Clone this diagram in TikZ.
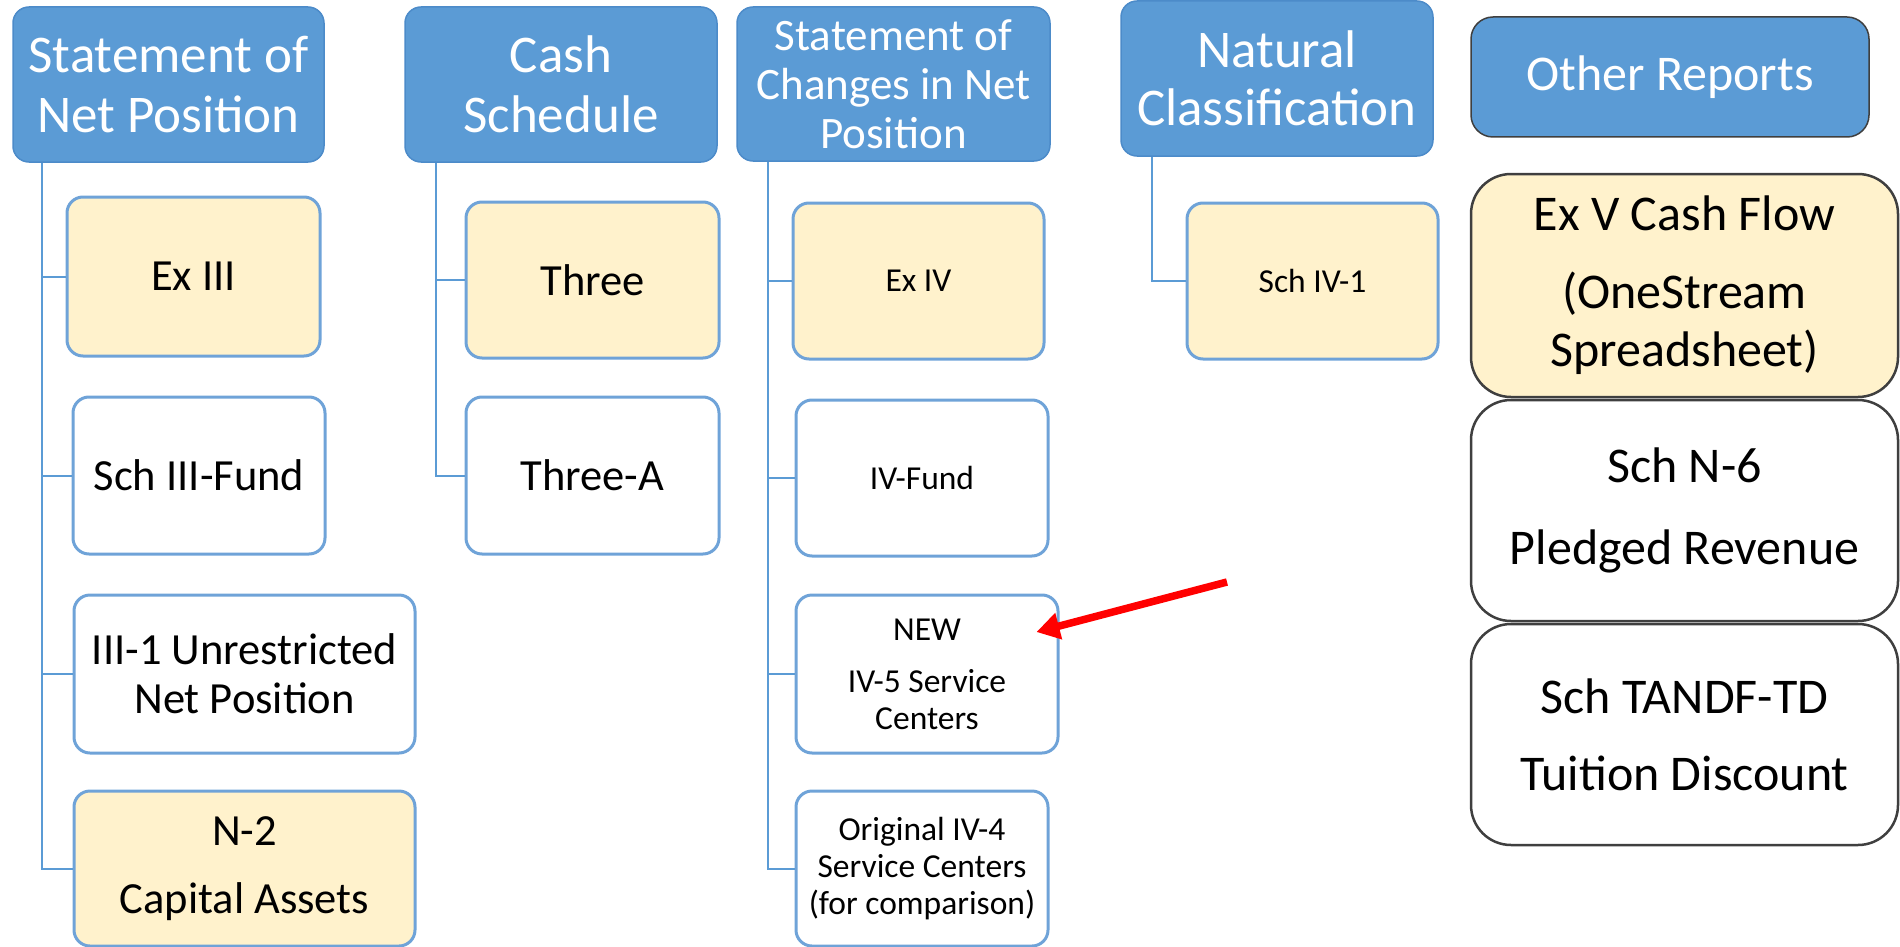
\documentclass[tikz,border=0pt]{standalone}
\usepackage{fontspec}
\setmainfont{Carlito}
\usepackage{tikz}
\usetikzlibrary{arrows.meta}

\definecolor{headblue}{HTML}{5B9BD5}
\definecolor{headline}{HTML}{4C8BC9}
\definecolor{itemline}{HTML}{6FA3D8}
\definecolor{cream}{HTML}{FFF2CC}
\definecolor{darkline}{HTML}{3F3F3F}
\definecolor{arrowred}{HTML}{FF0000}

\tikzset{
head/.style = { rectangle, draw = headline, fill = headblue, text = white, line width = 1.5pt, rounded corners = 16pt, align = center, inner sep = 0pt, font = \fontsize{53}{60}\selectfont },
item/.style = { rectangle, draw = itemline, fill = white, line width = 3pt, rounded corners = 16pt, align = center, inner sep = 0pt, font = \fontsize{44.5}{49}\selectfont },
small item/.style = { item, font = \fontsize{33.5}{37}\selectfont },
cream item/.style = { fill = cream },
other/.style = { rectangle, draw = darkline, fill = white, line width = 2.5pt, rounded corners = 40pt, align = center, inner sep = 0pt, font = \fontsize{50}{58}\selectfont },
branch/.style = { draw = headblue, line width = 2pt },
}

\begin{document}
\begin{tikzpicture}[x = 1pt, y = -1pt]
    \useasboundingbox (0, 0) rectangle (1900, 947);
    % headers
    \node[head, minimum width = 311pt, minimum height = 155pt] (hnet) at (168.5, 84.5) {Statement of\\Net Position};
    \node[head, minimum width = 312pt, minimum height = 155pt] (hcash) at (561, 84.5) {Cash\\Schedule};
    \node[head, minimum width = 313pt, minimum height = 154pt, font = \fontsize{45}{49}\selectfont] (hchg) at (893.5, 84) {Statement of\\Changes in Net\\Position};
    \node[head, minimum width = 312pt, minimum height = 155pt, font = \fontsize{53}{58}\selectfont] (hnat) at (1277, 78.5) {Natural\\Classification};
    \node[head, draw = darkline, minimum width = 398pt, minimum height = 120pt, rounded corners = 22pt, font = \fontsize{50}{58}\selectfont] (hother) at (1670, 77) {Other Reports};
    % statement of net position
    \node[item, cream item, minimum width = 253pt, minimum height = 159pt] (exiii) at (193.5, 276.5) {Ex III};
    \node[item, minimum width = 252pt, minimum height = 157pt] (schiii) at (199, 475.5) {Sch III-Fund};
    \node[item, minimum width = 341pt, minimum height = 158pt] (unres) at (244.5, 674) {III-1 Unrestricted\\Net Position};
    \node[item, cream item, minimum width = 341pt, minimum height = 155pt] (ntwo) at (244.5, 868.5) {N-2\\[19pt]Capital Assets};
    % cash schedule
    \node[item, cream item, minimum width = 253pt, minimum height = 156pt] (three) at (592.5, 280) {Three};
    \node[item, minimum width = 253pt, minimum height = 157pt] (threea) at (592.5, 475.5) {Three-A};
    % changes in net position
    \node[small item, cream item, minimum width = 251pt, minimum height = 156pt] (exiv) at (918.5, 281) {Ex IV};
    \node[small item, minimum width = 252pt, minimum height = 156pt] (ivfund) at (922, 478) {IV-Fund};
    \node[small item, minimum width = 262pt, minimum height = 158pt] (ivfive) at (927, 674) {NEW\\[15pt]IV-5 Service\\Centers};
    \node[small item, minimum width = 252pt, minimum height = 155pt] (ivfour) at (922, 868.5) {Original IV-4\\Service Centers\\(for comparison)};
    % natural classification
    \node[small item, cream item, minimum width = 251pt, minimum height = 156pt] (schivone) at (1312.5, 281) {Sch IV-1};
    % other reports
    \node[other, fill = cream, minimum width = 427pt, minimum height = 223pt] (exv) at (1684.5, 285.5) {Ex V Cash Flow\\[20pt](OneStream\\Spreadsheet)};
    \node[other, minimum width = 427pt, minimum height = 221pt] (nsix) at (1684.5, 510.5) {Sch N-6\\[24pt]Pledged Revenue};
    \node[other, minimum width = 427pt, minimum height = 221pt] (tandf) at (1684.5, 734.5) {Sch TANDF-TD\\[19pt]Tuition Discount};
    % connectors
    \draw[branch] ([xshift = 30pt]hnet.south west) |- (exiii.west);
    \draw[branch] ([xshift = 30pt]hnet.south west) |- (schiii.west);
    \draw[branch] ([xshift = 30pt]hnet.south west) |- (unres.west);
    \draw[branch] ([xshift = 30pt]hnet.south west) |- (ntwo.west);
    \draw[branch] ([xshift = 32pt]hcash.south west) |- (three.west);
    \draw[branch] ([xshift = 32pt]hcash.south west) |- (threea.west);
    \draw[branch] ([xshift = 32pt]hchg.south west) |- (exiv.west);
    \draw[branch] ([xshift = 32pt]hchg.south west) |- (ivfund.west);
    \draw[branch] ([xshift = 32pt]hchg.south west) |- (ivfive.west);
    \draw[branch] ([xshift = 32pt]hchg.south west) |- (ivfour.west);
    \draw[branch] ([xshift = 32pt]hnat.south west) |- (schivone.west);
    % pointer to the new schedule
    \coordinate (pointer) at (1227, 582);
    \draw[arrowred, line width = 7.5pt, -{Triangle[length = 23pt, width = 26pt]}] (pointer) -- ([xshift = -23pt, yshift = 42pt]ivfive.east);
\end{tikzpicture}
\end{document}
